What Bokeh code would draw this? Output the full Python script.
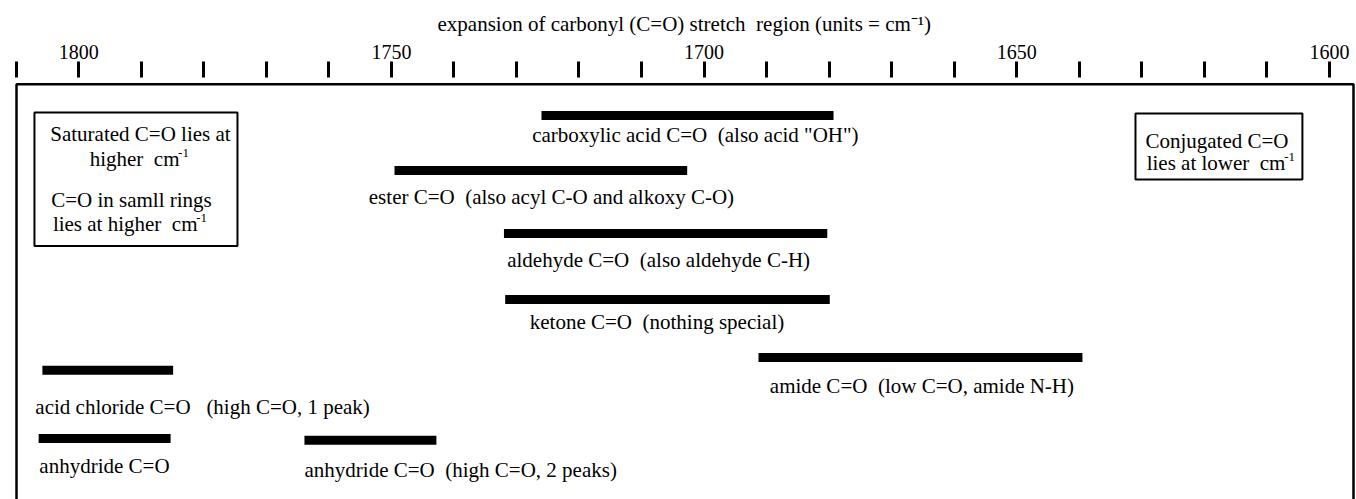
from bokeh.plotting import figure
from bokeh.models import Range1d, FixedTicker, ColumnDataSource
from bokeh.core.properties import value
from bokeh.embed import file_html
from bokeh.resources import INLINE

FONT = "Liberation Serif"
SP2 = "\u00a0 "  # a double space that survives SVG whitespace collapsing

# ---------------- data (wavenumbers, cm-1) ----------------
band_names = ["carboxylic acid", "ester", "aldehyde", "ketone", "amide",
              "acid chloride", "anhydride", "anhydride (2 peaks)"]
band_high = [1726.0, 1749.5, 1732.0, 1731.8, 1691.3, 1805.8, 1806.4, 1763.9]
band_low = [1679.3, 1702.7, 1680.3, 1679.9, 1639.5, 1784.9, 1785.3, 1742.8]
band_labels = [
    "carboxylic acid C=O" + SP2 + "(also acid \"OH\")",
    "ester C=O" + SP2 + "(also acyl C-O and alkoxy C-O)",
    "aldehyde C=O" + SP2 + "(also aldehyde C-H)",
    "ketone C=O" + SP2 + "(nothing special)",
    "amide C=O" + SP2 + "(low C=O, amide N-H)",
    "acid chloride C=O\u00a0\u00a0 (high C=O, 1 peak)",
    "anhydride C=O",
    "anhydride C=O" + SP2 + "(high C=O, 2 peaks)",
]
tick_values = [1810, 1800, 1790, 1780, 1770, 1760, 1750, 1740, 1730, 1720, 1710,
               1700, 1690, 1680, 1670, 1660, 1650, 1640, 1630, 1620, 1610, 1600]
labelled_ticks = [1800, 1750, 1700, 1650, 1600]
title_text = "expansion of carbonyl (C=O) stretch" + SP2 + "region (units = cm\u207b\u00b9)"

# ---------------- layout (positions only) ----------------
W, H = 1356, 499
bar_rows = [115, 170, 233, 299, 357, 369.7, 438, 439.7]
label_x = [1727.49, 1753.61, 1731.48, 1727.87, 1689.49, 1806.93, 1806.29, 1763.89]
label_y = [134.7, 196.3, 259.0, 321.3, 385.5, 406.0, 465.0, 469.0]

p = figure(width=W, height=H, output_backend="svg", toolbar_location=None,
           x_range=Range1d(1812.50, 1595.68), y_range=Range1d(499, 77),
           x_axis_location="above", y_axis_location=None,
           min_border_left=0, min_border_right=0, min_border_bottom=0,
           min_border_top=77)
p.xgrid.visible = False
p.ygrid.visible = False
p.outline_line_color = None
p.background_fill_color = "white"
p.border_fill_color = "white"

p.title.text = title_text
p.title.align = "left"
p.title.offset = 437
p.title.standoff = 12
p.title.text_font = FONT
p.title.text_font_size = "21px"
p.title.text_font_style = "normal"
p.title.text_color = "black"

ax = p.xaxis[0]
ax.ticker = FixedTicker(ticks=tick_values)
ax.major_label_overrides = {t: (str(t) if t in labelled_ticks else "") for t in tick_values}
ax.axis_line_color = None
ax.major_tick_in = 0
ax.major_tick_out = 16
ax.major_tick_line_width = 3
ax.major_tick_line_color = "black"
ax.minor_tick_line_color = None
ax.major_label_standoff = 3
ax.major_label_text_font = FONT
ax.major_label_text_font_size = "20px"
ax.major_label_text_color = "black"

# outer frame (open at the bottom)
p.quad(left=[1809.94], right=[1596.16], top=[83.8], bottom=[530],
       fill_color=None, line_color="black", line_width=2.5)

# bands
src = ColumnDataSource(dict(name=band_names, high=band_high, low=band_low, row=bar_rows,
                            lx=label_x, ly=label_y, label=band_labels))
p.hbar(y="row", left="high", right="low", height=9, source=src,
       fill_color="black", line_color=None)
p.text(x="lx", y="ly", text="label", source=src, text_font=value(FONT),
       text_font_size="21px", text_color="black", text_align="left",
       text_baseline="alphabetic")

# note boxes
p.quad(left=[1807.07, 1631.02], right=[1774.61, 1604.33], top=[112.0, 113.0],
       bottom=[245.5, 179.0], fill_color=None, line_color="black", line_width=2)

note_src = ColumnDataSource(dict(
    x=[1790.12, 1783.88, 1791.56, 1781.0, 1617.99, 1607.04],
    y=[133.0, 158.0, 199.0, 223.5, 140.0, 162.5],
    t=["Saturated C=O lies at", "higher" + SP2 + "cm", "C=O in samll rings",
       "lies at higher" + SP2 + "cm", "Conjugated C=O", "lies at lower" + SP2 + "cm"],
    a=["center", "right", "center", "right", "center", "right"],
))
p.text(x="x", y="y", text="t", text_align="a", source=note_src, text_font=value(FONT),
       text_font_size="21px", text_color="black", text_baseline="alphabetic")
sup_src = ColumnDataSource(dict(x=[1784.1, 1781.2, 1607.25], y=[152.0, 217.5, 156.5],
                                t=["-1", "-1", "-1"]))
p.text(x="x", y="y", text="t", source=sup_src, text_font=value(FONT),
       text_font_size="13px", text_color="black", text_align="left",
       text_baseline="alphabetic")

open("out.html", "w").write(file_html(p, INLINE))
